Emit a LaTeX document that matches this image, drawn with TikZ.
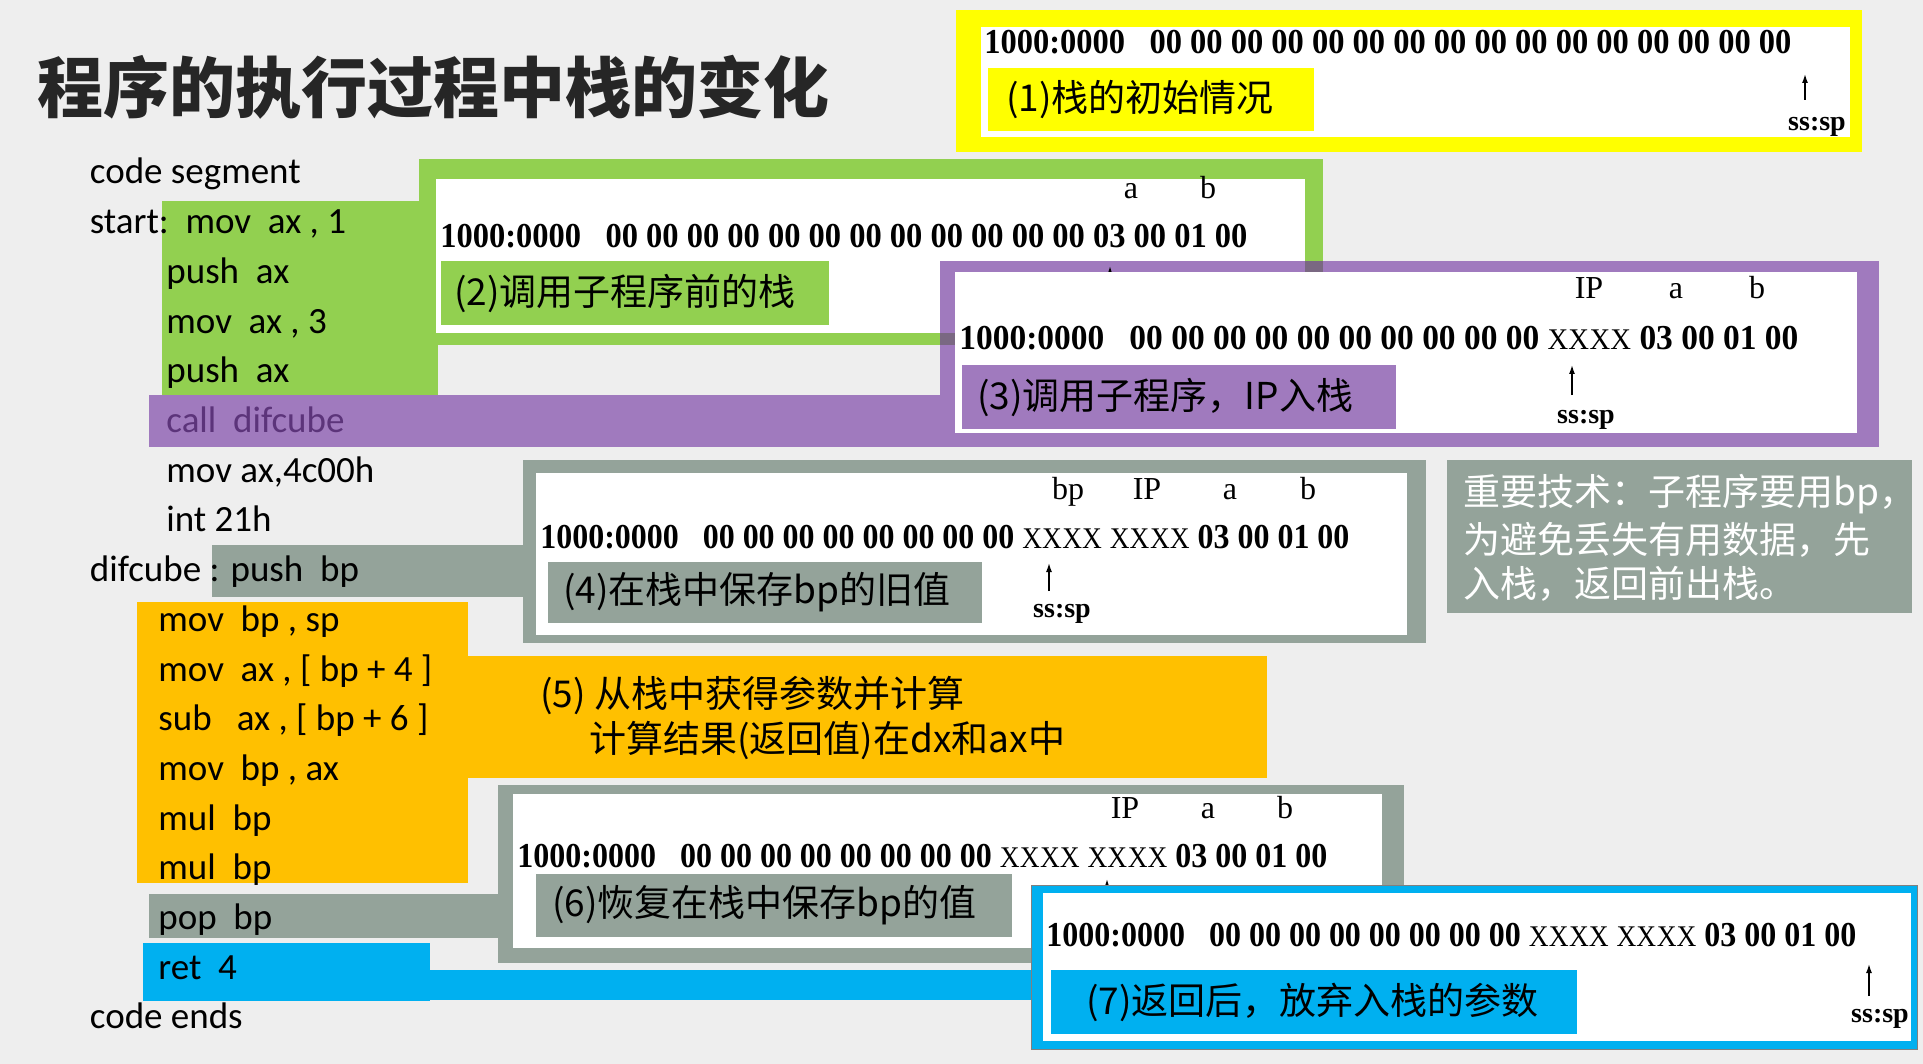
\documentclass[tikz,border=0pt]{standalone}
\usepackage{fontspec}
\usepackage{graphicx}
\usetikzlibrary{arrows.meta}
\setmainfont{Liberation Serif}
\newfontfamily\codefont{Carlito}
\newfontfamily\cjkfont{Noto Sans CJK SC}
\newfontfamily\hexfont{Liberation Serif}

\definecolor{bgc}{RGB}{238,238,238}
\definecolor{pptgreen}{RGB}{146,208,80}
\definecolor{pptpurple}{RGB}{160,122,190}
\definecolor{pptgray}{RGB}{148,163,154}
\definecolor{pptorange}{RGB}{255,192,0}
\definecolor{pptblue}{RGB}{0,176,240}
\definecolor{pptyellow}{RGB}{255,255,0}
\definecolor{callpurple}{RGB}{92,52,122}
\definecolor{titlegray}{RGB}{38,38,38}
\definecolor{overlapc}{RGB}{122,104,130}

% one row of memory bytes, stretched to a given width
\newcommand\hexrow[4]{%
  \node[hexrowstyle] (#1) at (#2) {\resizebox{#3}{\height}{#4}};}
% an unknown word (two bytes), set lighter and a little smaller than the digits
\newcommand\xx{{\mdseries\fontsize{15}{17}\selectfont XX\kern0.02em XX}}

\begin{document}
\begin{tikzpicture}[x=0.5pt,y=-0.5pt,
  codeline/.style={font=\codefont\fontsize{18.5}{22}\selectfont, anchor=base west, inner sep=0},
  lbltext/.style={font=\cjkfont\fontsize{18.5}{22}\selectfont, anchor=west, inner sep=0},
  notetext/.style={font=\cjkfont\fontsize{18.5}{22}\selectfont, anchor=west, inner sep=0, text=white},
  hexrowstyle/.style={font=\hexfont\bfseries\fontsize{17.5}{20}\selectfont, anchor=base west, inner sep=0},
  hexlbl/.style={font=\hexfont\fontsize{16}{19}\selectfont, anchor=base, inner sep=0},
  sslbl/.style={font=\hexfont\bfseries\fontsize{14}{16}\selectfont, anchor=base, inner sep=0},
  sparrow/.style={line width=0.7pt, -{Latex[length=4.5pt,width=3pt]}}]

\fill[bgc] (0,0) rectangle (1923,1064);
\useasboundingbox (0,0) rectangle (1923,1064);

% title
\node[anchor=west, inner sep=0, font=\cjkfont\bfseries\fontsize{33}{36}\selectfont, text=titlegray]
  (title) at (37,87) {程序的执行过程中栈的变化};

% ---------- (1) initial stack ----------
\fill[pptyellow] (956,10) rectangle (1862,152);
\fill[white] (981,27) rectangle (1850,137);
\hexrow{row1}{984,54}{403.5pt}{1000:0000\ \ \ 00 00 00 00 00 00 00 00 00 00 00 00 00 00 00 00}
\fill[pptyellow] (988,68) rectangle (1314,131);
\node[lbltext] (lab1) at (1006,99.5) {(1)栈的初始情况};
\coordinate (sp1) at (1805,100);
\draw[sparrow] (sp1) -- (1805,74);
\node[sslbl] (ss1) at (1817,131) {ss:sp};

% ---------- (2) before the call ----------
\fill[pptgreen] (162,201) rectangle (438,395);
\fill[pptgreen] (419,159) rectangle (1323,345);
\fill[white] (436,179) rectangle (1305,333);
\hexrow{row2}{440,248}{403.5pt}{1000:0000\ \ \ 00 00 00 00 00 00 00 00 00 00 00 00 03 00 01 00}
\node[hexlbl] (a2) at (1131,199) {a};
\node[hexlbl] (b2) at (1208,199) {b};
\fill[pptgreen] (441,261) rectangle (829,325);
\node[lbltext] (lab2) at (454,293) {(2)调用子程序前的栈};

% ---------- (3) call: IP pushed ----------
\fill[pptpurple] (149,395) rectangle (940,447);
\fill[pptpurple] (940,261) rectangle (1879,447);
\fill[overlapc] (1305,261) rectangle (1323,272);
\fill[overlapc] (940,333) rectangle (955,345);
\coordinate (sp2) at (1110,300);
\draw[sparrow] (sp2) -- (1110,266);
\fill[white] (955,272) rectangle (1857,433);
\hexrow{row3}{959,350}{419.5pt}{1000:0000\ \ \ 00 00 00 00 00 00 00 00 00 00 \xx\ 03 00 01 00}
\node[hexlbl] (ip3) at (1589,299) {IP};
\node[hexlbl] (a3) at (1676,299) {a};
\node[hexlbl] (b3) at (1757,299) {b};
\fill[pptpurple] (962,365) rectangle (1396,429);
\node[lbltext] (lab3) at (977,397) {(3)调用子程序，IP入栈};
\coordinate (sp3) at (1572,395);
\draw[sparrow] (sp3) -- (1572,365);
\node[sslbl] (ss3) at (1586,423) {ss:sp};

% ---------- (4) bp saved ----------
\fill[pptgray] (212,545) rectangle (524,597);
\fill[pptgray] (523,460) rectangle (1426,643);
\fill[white] (536,473) rectangle (1407,635);
\hexrow{row4}{540,548}{404.5pt}{1000:0000\ \ \ 00 00 00 00 00 00 00 00 \xx\ \xx\ 03 00 01 00}
\node[hexlbl] (bp4) at (1068,499) {bp};
\node[hexlbl] (ip4) at (1147,499) {IP};
\node[hexlbl] (a4) at (1230,499) {a};
\node[hexlbl] (b4) at (1308,499) {b};
\fill[pptgray] (548,562) rectangle (982,623);
\node[lbltext] (lab4) at (563,592.5) {(4)在栈中保存bp的旧值};
\coordinate (sp4) at (1049,591);
\draw[sparrow] (sp4) -- (1049,563);
\node[sslbl] (ss4) at (1062,617) {ss:sp};

% ---------- note ----------
\fill[pptgray] (1447,460) rectangle (1912,613);
\node[notetext] (note1) at (1463,494.5) {重要技术：子程序要用bp，};
\node[notetext] (note2) at (1463,539.5) {为避免丢失有用数据，先};
\node[notetext] (note3) at (1463,583.5) {入栈，返回前出栈。};

% ---------- (5) computing ----------
\fill[pptorange] (137,602) rectangle (468,883);
\fill[pptorange] (467,656) rectangle (1267,778);
\node[lbltext] (lab5a) at (540,695) {(5) 从栈中获得参数并计算};
\node[lbltext] (lab5b) at (589,740) {计算结果(返回值)在dx和ax中};

% ---------- (6) bp restored ----------
\fill[pptgray] (149,894) rectangle (499,938);
\fill[pptgray] (498,785) rectangle (1404,963);
\fill[white] (513,794) rectangle (1382,948);
\hexrow{row6}{517,867}{405pt}{1000:0000\ \ \ 00 00 00 00 00 00 00 00 \xx\ \xx\ 03 00 01 00}
\node[hexlbl] (ip6) at (1125,818) {IP};
\node[hexlbl] (a6) at (1208,818) {a};
\node[hexlbl] (b6) at (1285,818) {b};
\fill[pptgray] (536,874) rectangle (1012,937);
\node[lbltext] (lab6) at (552,905.5) {(6)恢复在栈中保存bp的值};
\coordinate (sp6) at (1107,920);
\draw[sparrow] (sp6) -- (1107,879);

% ---------- (7) after return ----------
\fill[pptblue] (143,943) rectangle (430,1001);
\fill[pptblue] (429,970) rectangle (1032,1000);
\filldraw[fill=pptblue, draw=gray, line width=0.5pt] (1031,885) rectangle (1917,1049);
\fill[white] (1043,893) rectangle (1911,1041);
\hexrow{row7}{1046,946}{405pt}{1000:0000\ \ \ 00 00 00 00 00 00 00 00 \xx\ \xx\ 03 00 01 00}
\fill[pptblue] (1051,970) rectangle (1577,1034);
\node[lbltext] (lab7) at (1086,1002) {(7)返回后，放弃入栈的参数};
\coordinate (sp7) at (1869,996);
\draw[sparrow] (sp7) -- (1869,964);
\node[sslbl] (ss7) at (1880,1022) {ss:sp};

% ---------- source listing ----------
\foreach \i/\x/\t in {
  0/89.5/{code segment},
  1/89.5/{start:\ \ mov\ \ ax , 1},
  2/166/{push\ \ ax},
  3/166/{mov\ \ ax , 3},
  4/166/{push\ \ ax},
  6/166/{mov ax,4c00h},
  7/166/{int 21h},
  8/89.5/{difcube : push\ \ bp},
  9/158/{mov\ \ bp , sp},
  10/158/{mov\ \ ax , [ bp + 4 ]},
  11/158/{sub\ \ \ ax , [ bp + 6 ]},
  12/158/{mov\ \ bp , ax},
  13/158/{mul\ \ bp},
  14/158/{mul\ \ bp},
  15/158/{pop\ \ bp},
  16/158/{ret\ \ 4},
  17/89.5/{code ends}}
  \node[codeline] (code\i) at (\x,184+\i*49.7) {\t};
\node[codeline, text=callpurple] (code5) at (166,184+5*49.7) {call\ \ difcube};

\end{tikzpicture}
\end{document}
